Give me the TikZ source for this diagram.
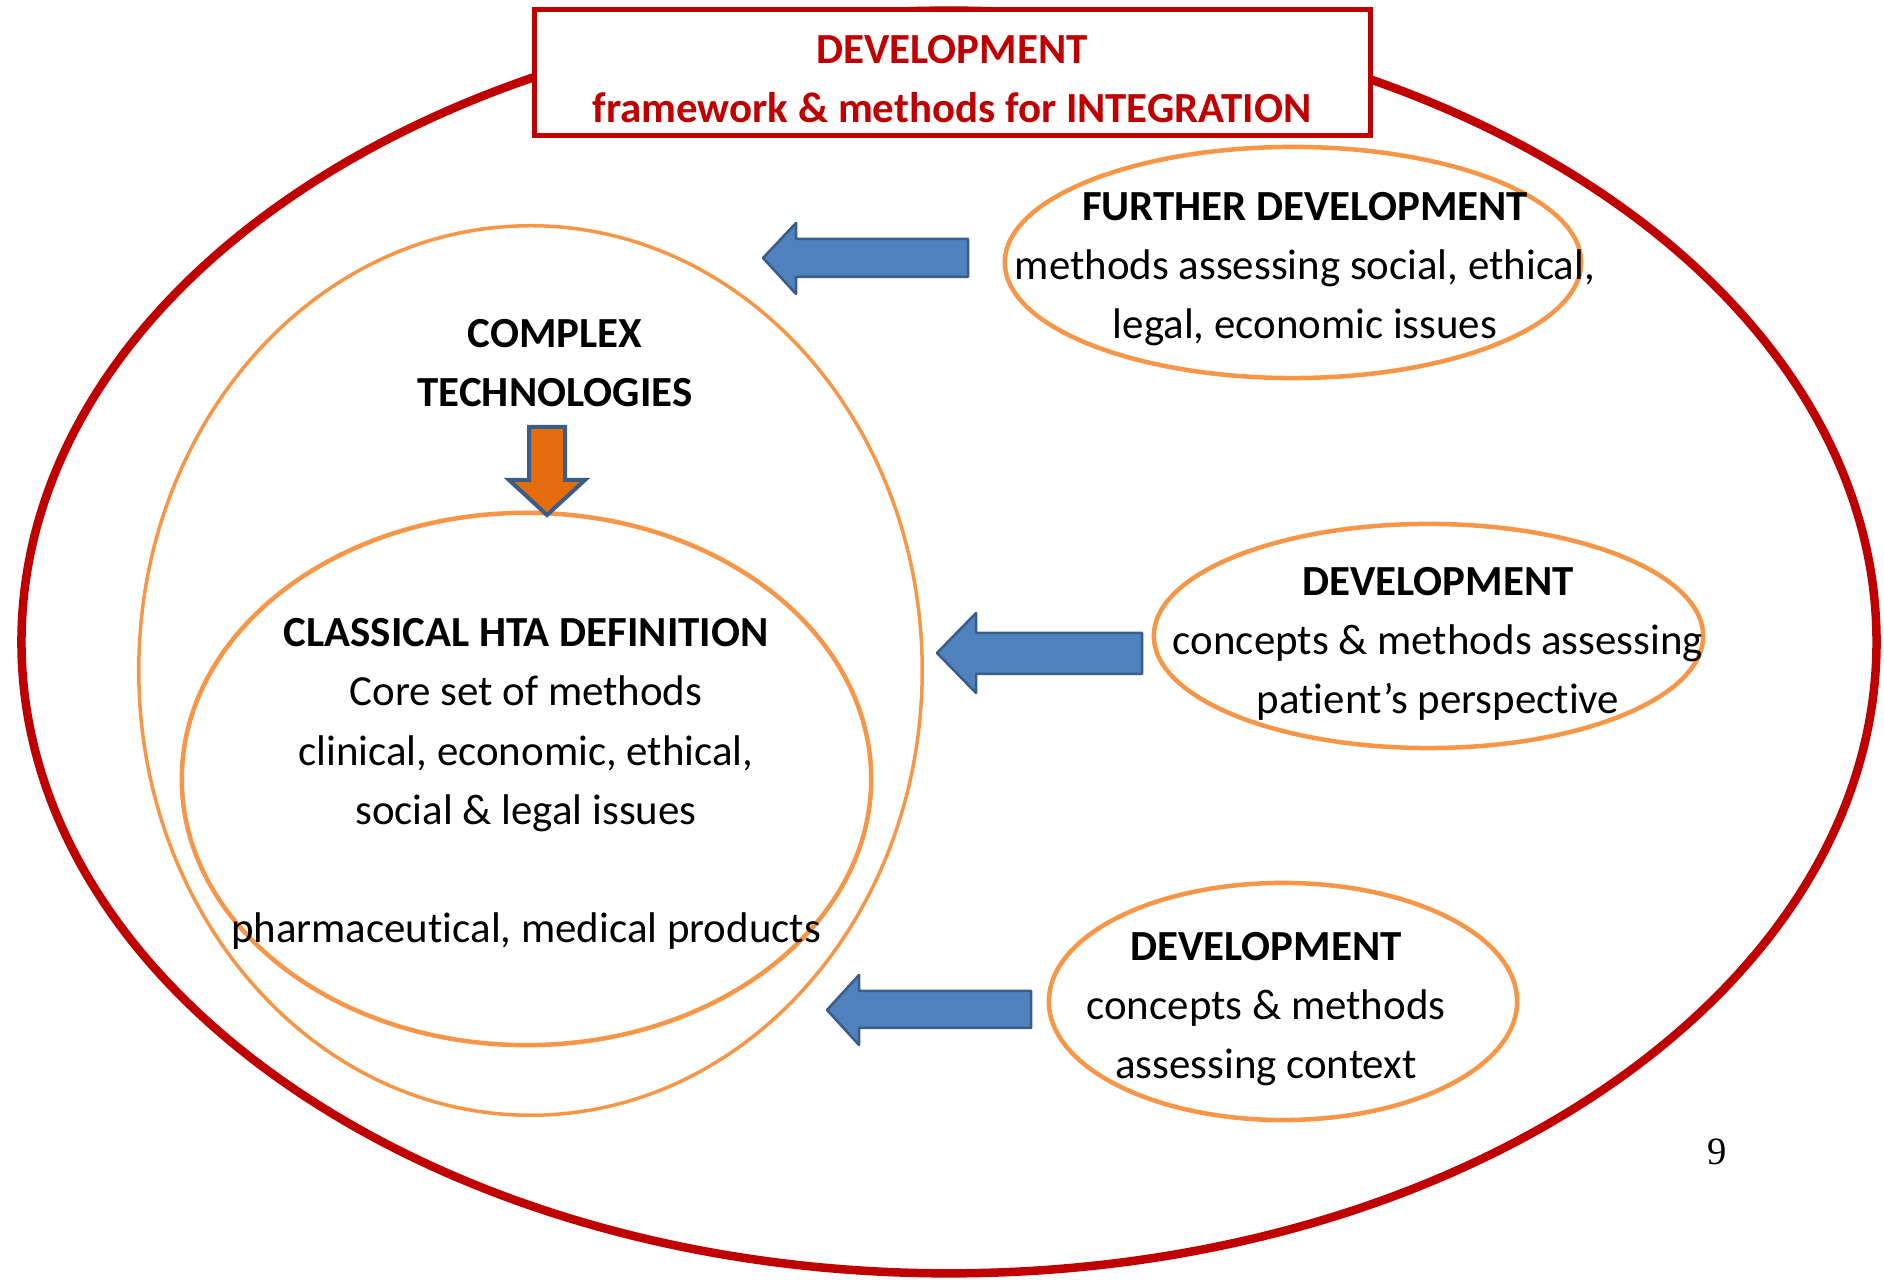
\documentclass[tikz,border=0pt]{standalone}
\usepackage{fontspec}
\setmainfont{Carlito}[Ligatures=NoCommon]
\newfontfamily\pagenumfont{Liberation Serif}
\usetikzlibrary{shapes.geometric}
\definecolor{hred}{HTML}{C00000}
\definecolor{horange}{HTML}{F79646}
\definecolor{hblue}{HTML}{4F81BD}
\definecolor{hbluedark}{HTML}{385D8A}
\definecolor{harrow}{HTML}{E46C0A}
\begin{document}
\begin{tikzpicture}[x=0.01cm,y=-0.01cm,
  oell/.style={ellipse, draw=horange, line width=0.045cm, inner sep=0pt},
  txt/.style={align=center, font=\fontsize{12.2}{16.8}\selectfont, inner sep=0pt},
  btxt/.style={align=center, font=\fontsize{12.2}{16.8}\selectfont\bfseries, inner sep=0pt},
  blockarrow/.style={fill=hblue, draw=hbluedark, line width=0.025cm, line join=round}]
\useasboundingbox (0,0) rectangle (1884,1280);
\fill[white] (0,0) rectangle (1884,1280);
% outer red ellipse
\node[ellipse, draw=hred, line width=0.085cm, minimum width=18.54cm, minimum height=12.62cm, inner sep=0pt] (outer) at (949,642) {};
% title box
\node[draw=hred, fill=white, line width=0.05cm, minimum width=8.35cm, minimum height=1.25cm, inner sep=0pt] (titlebox) at (952.5,72.5) {};
\node[btxt, text=hred] (titletxt) at (952,79) {DEVELOPMENT\\framework \& methods for INTEGRATION};
% complex technologies circle
\node[oell, line width=0.035cm, minimum width=7.83cm, minimum height=8.89cm] (complex) at (530.5,670.5) {};
\node[btxt] (complextxt) at (555,363) {COMPLEX\\TECHNOLOGIES};
% classical HTA ellipse
\node[oell, minimum width=6.89cm, minimum height=5.32cm] (classical) at (526.5,779) {};
\node[txt] (classicaltxt) at (526,784) {\textbf{CLASSICAL HTA DEFINITION}\\Core set of methods\\clinical, economic, ethical,\\social \& legal issues\\[16.8pt]pharmaceutical, medical products};
% orange down arrow
\draw[fill=harrow, draw=hbluedark, line width=0.04cm, line join=miter] (529,427) -- (565,427) -- (565,480) -- (585,480) -- (547,515) -- (509,480) -- (529,480) -- cycle;
% right ellipses
\node[oell, minimum width=5.76cm, minimum height=2.31cm] (further) at (1293,262.5) {};
\node[txt] (furthertxt) at (1305,269) {\textbf{FURTHER DEVELOPMENT}\\methods assessing social, ethical,\\legal, economic issues};
\node[oell, minimum width=5.49cm, minimum height=2.24cm] (patient) at (1428.5,636) {};
\node[txt] (patienttxt) at (1438,644) {\textbf{DEVELOPMENT}\\concepts \& methods assessing\\patient’s perspective};
\node[oell, minimum width=4.68cm, minimum height=2.37cm] (context) at (1283,1001.5) {};
\node[txt] (contexttxt) at (1266,1009) {\textbf{DEVELOPMENT}\\concepts \& methods\\assessing context};
% blue block arrows
\draw[blockarrow] (763,258) -- (796,223) -- (796,239) -- (968,239) -- (968,277) -- (796,277) -- (796,294) -- cycle;
\draw[blockarrow] (937,653) -- (976,613) -- (976,633) -- (1142,633) -- (1142,674) -- (976,674) -- (976,693) -- cycle;
\draw[blockarrow] (827,1010) -- (859,975) -- (859,991) -- (1031,991) -- (1031,1028) -- (859,1028) -- (859,1045) -- cycle;
% page number
\node[font=\pagenumfont\fontsize{11}{13}\selectfont, inner sep=0pt] (pagenum) at (1717,1152) {9};
\end{tikzpicture}
\end{document}
